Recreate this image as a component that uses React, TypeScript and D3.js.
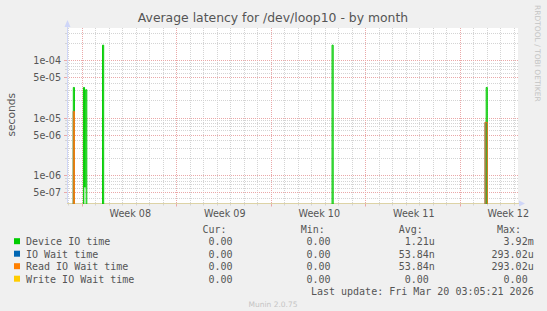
import React from "react";
import * as d3 from "d3";

const W = 547;
const H = 311;

const title = "Average latency for /dev/loop10 - by month";
const yAxisLabel = "seconds";
const sideText = "RRDTOOL / TOBI OETIKER";
const watermark = "Munin 2.0.75";
const lastUpdate = "Last update: Fri Mar 20 03:05:21 2026";

const rangeStart = "2026-02-14T20:48:00Z";
const rangeEnd = "2026-03-20T06:35:00Z";

const weekLabels = ["Week 08", "Week 09", "Week 10", "Week 11", "Week 12"];
const weekStarts = ["2026-02-16T00:00:00Z", "2026-02-23T00:00:00Z", "2026-03-02T00:00:00Z", "2026-03-09T00:00:00Z", "2026-03-16T00:00:00Z"];

const yMajorTicks = [1e-4, 5e-5, 1e-5, 5e-6, 1e-6, 5e-7];
const yTickLabels = ["1e-04", "5e-05", "1e-05", "5e-06", "1e-06", "5e-07"];

const seriesNames = ["Device IO time", "IO Wait time", "Read IO Wait time", "Write IO Wait time"];
const seriesColors = ["#00cc00", "#0066b3", "#ff8000", "#ffcc00"];

// non-zero 2-hour samples (seconds); everything else is 0
const deviceTimes = ["2026-02-15T08:00:00Z", "2026-02-16T02:00:00Z", "2026-02-16T04:00:00Z", "2026-02-16T06:00:00Z", "2026-02-17T12:00:00Z", "2026-03-06T12:00:00Z", "2026-03-17T22:00:00Z"];
const deviceValues = [3.4e-5, 3.4e-5, 6.3e-7, 3.1e-5, 1.85e-4, 1.85e-4, 3.4e-5];
const ioWaitTimes = ["2026-02-15T08:00:00Z", "2026-03-17T20:00:00Z", "2026-03-17T22:00:00Z"];
const ioWaitValues = [1.31e-5, 8.4e-6, 8.4e-6];
const readTimes = ["2026-02-15T08:00:00Z", "2026-03-17T20:00:00Z", "2026-03-17T22:00:00Z"];
const readValues = [1.31e-5, 8.4e-6, 8.4e-6];
const writeTimes: string[] = [];
const writeValues: number[] = [];

const curValues = ["0.00", "0.00", "0.00", "0.00"];
const minValues = ["0.00", "0.00", "0.00", "0.00"];
const avgValues = ["1.21u", "53.84n", "53.84n", "0.00"];
const maxValues = ["3.92m", "293.02u", "293.02u", "0.00"];
const columnHeaders = ["Cur:", "Min:", "Avg:", "Max:"];

const seriesTimes = [deviceTimes, ioWaitTimes, readTimes, writeTimes];
const seriesValues = [deviceValues, ioWaitValues, readValues, writeValues];

const PL = 67, PR = 518, PT = 28, PB = 203.5;
const textColor = "#555";
const gridColor = "#d4d4d4";
const majorColor = "#eaa8a8";
const sans = "'DejaVu Sans', sans-serif";
const mono = "'DejaVu Sans Mono', monospace";

export default function App() {
  const t0 = new Date(rangeStart);
  const t1 = new Date(rangeEnd);
  const x = d3.scaleUtc().domain([t0, t1]).range([PL, PR]);
  const y = d3.scaleLog().domain([3.26e-7, 3.674e-4]).range([PB, PT]);
  const zeroY = 207;
  const snap = (v: number) => Math.floor(v) + 0.5;

  const stamps = d3.utcHour.every(2)!.range(d3.utcHour.offset(t0, -2), d3.utcHour.offset(t1, 4));
  const series = seriesTimes.map((times, i) => {
    const m = new Map<number, number>();
    times.forEach((t, j) => m.set(new Date(t).getTime(), seriesValues[i][j]));
    return stamps.map((s) => [s, m.get(s.getTime()) ?? 0] as [Date, number]);
  });
  const line = d3
    .line<[Date, number]>()
    .x((d) => x(d[0]))
    .y((d) => (d[1] > 0 ? y(d[1]) : zeroY))
    .curve(d3.curveStepAfter);
  const area = d3
    .area<[Date, number]>()
    .x((d) => x(d[0]))
    .y0(zeroY)
    .y1((d) => (d[1] > 0 ? y(d[1]) : zeroY))
    .curve(d3.curveStepAfter);

  const [lo, hi] = y.domain();
  const minorY: number[] = [];
  for (let e = -8; e <= -3; e++) {
    for (let k = 1; k <= 9; k++) {
      const v = k * Math.pow(10, e);
      if (v >= lo && v <= hi && k !== 1 && k !== 5) minorY.push(v);
    }
  }
  const days = d3.utcDay.range(t0, t1);
  const weeks = weekStarts.map((s) => new Date(s));

  const rowY = [245, 257.5, 270, 282.5];
  const headerY = 232.6;
  const colEnds = [238.5, 336.5, 434.8, 533.7];
  const colStarts = [202.4, 300.8, 398.8, 496.9];
  const pad = (s: string) => (/[a-zA-Z]$/.test(s) ? s : s + " ");
  const cols = [curValues, minValues, avgValues, maxValues];

  return (
    <svg width={W} height={H} style={{ position: "absolute", left: 0, top: 0, display: "block" }}>
      <defs>
        <clipPath id="plotclip">
          <rect x={PL} y={PT} width={PR - PL} height={204 - PT} />
        </clipPath>
      </defs>
      <rect x={0} y={0} width={W} height={H} fill="#f0f0f0" />
      <rect x={PL} y={PT} width={PR - PL} height={PB - PT} fill="#ffffff" />

      {/* minor horizontal grid */}
      {minorY.map((v, i) => (
        <g key={"my" + i}>
          <line x1={PL} x2={PR} y1={snap(y(v))} y2={snap(y(v))} stroke={gridColor} strokeDasharray="1,1" />
          <line x1={PL - 2} x2={PL} y1={snap(y(v))} y2={snap(y(v))} stroke={gridColor} />
        </g>
      ))}
      {/* minor vertical grid (days) */}
      {days.map((d, i) => (
        <g key={"dx" + i}>
          <line x1={snap(x(d))} x2={snap(x(d))} y1={PT} y2={PB} stroke={gridColor} strokeDasharray="1,1" />
          <line x1={snap(x(d))} x2={snap(x(d))} y1={PB} y2={PB + 2} stroke={gridColor} />
        </g>
      ))}
      {/* major horizontal grid */}
      {yMajorTicks.map((v, i) => (
        <g key={"My" + i}>
          <line x1={PL} x2={PR} y1={snap(y(v))} y2={snap(y(v))} stroke={majorColor} strokeDasharray="1,1" />
          <line x1={PL - 3} x2={PL} y1={snap(y(v))} y2={snap(y(v))} stroke={majorColor} />
          <text x={61} y={snap(y(v))} dy="0.35em" textAnchor="end" fontFamily={sans} fontSize={9.6} fill={textColor}>
            {yTickLabels[i]}
          </text>
        </g>
      ))}
      {/* major vertical grid (weeks) */}
      {weeks.map((d, i) => (
        <g key={"wx" + i}>
          <line x1={snap(x(d))} x2={snap(x(d))} y1={PT} y2={PB} stroke={majorColor} strokeDasharray="1,1" />
          <line x1={snap(x(d))} x2={snap(x(d))} y1={PB} y2={PB + 3} stroke={majorColor} />
          <text x={x(d3.utcHour.offset(d, 84)) + 0.7} y={216.6} textAnchor="middle" fontFamily={sans} fontSize={9.6} fill={textColor}>
            {weekLabels[i]}
          </text>
        </g>
      ))}

      {/* axes */}
      <line x1={PL + 0.5} x2={PL + 0.5} y1={24} y2={PB + 0.5} stroke="#cfd6f8" />
      <path d={`M${PL + 0.5 - 3},${27} L${PL + 0.5},${20} L${PL + 0.5 + 3},${27} Z`} fill="#cfd6f8" />
      <line x1={PL} x2={PR + 2} y1={PB} y2={PB} stroke="#ddd3a6" />
      <path d={`M${PR + 1},${PB - 3} L${PR + 7},${PB} L${PR + 1},${PB + 3} Z`} fill="#cfd6f8" />

      {/* series */}
      <g clipPath="url(#plotclip)">
        {series.map((s, i) => (
          <path key={"a" + i} d={area(s) ?? ""} fill={seriesColors[i]} fillOpacity={0.35} stroke="none" />
        ))}
        {series.map((s, i) => (
          <path key={"s" + i} d={line(s) ?? ""} fill="none" stroke={seriesColors[i]} strokeWidth={1} />
        ))}
      </g>

      {/* title & labels */}
      <text x={273} y={22.3} textAnchor="middle" fontFamily={sans} fontSize={12.4} fill={textColor}>
        {title}
      </text>
      <text transform={`translate(11.2,114.7) rotate(-90)`} dy="0.35em" textAnchor="middle" fontFamily={sans} fontSize={10.7} fill={textColor}>
        {yAxisLabel}
      </text>
      <text transform={`translate(537.5,5) rotate(90)`} dy="0.35em" textAnchor="start" fontFamily={sans} fontSize={7.5} fill="#c4c4c4">
        {sideText}
      </text>

      {/* legend */}
      {columnHeaders.map((h, j) => (
        <text key={"h" + j} x={colStarts[j]} y={headerY} fontFamily={mono} fontSize={10} fill={textColor}>
          {h}
        </text>
      ))}
      {seriesNames.map((n, i) => (
        <g key={"l" + i}>
          <rect x={14} y={rowY[i] - 6.8} width={6} height={6} fill={seriesColors[i]} />
          <text x={26} y={rowY[i]} fontFamily={mono} fontSize={10} fill={textColor}>
            {n}
          </text>
          {cols.map((c, j) => (
            <text key={"v" + j} x={colEnds[j]} y={rowY[i]} textAnchor="end" fontFamily={mono} fontSize={10} fill={textColor} style={{ whiteSpace: "pre" }}>
              {pad(c[i])}
            </text>
          ))}
        </g>
      ))}
      <text x={533.7} y={295.2} textAnchor="end" fontFamily={mono} fontSize={10} fill={textColor}>
        {lastUpdate}
      </text>
      <text x={273} y={307.4} textAnchor="middle" fontFamily={sans} fontSize={7.5} fill="#c4c4c4">
        {watermark}
      </text>
    </svg>
  );
}
